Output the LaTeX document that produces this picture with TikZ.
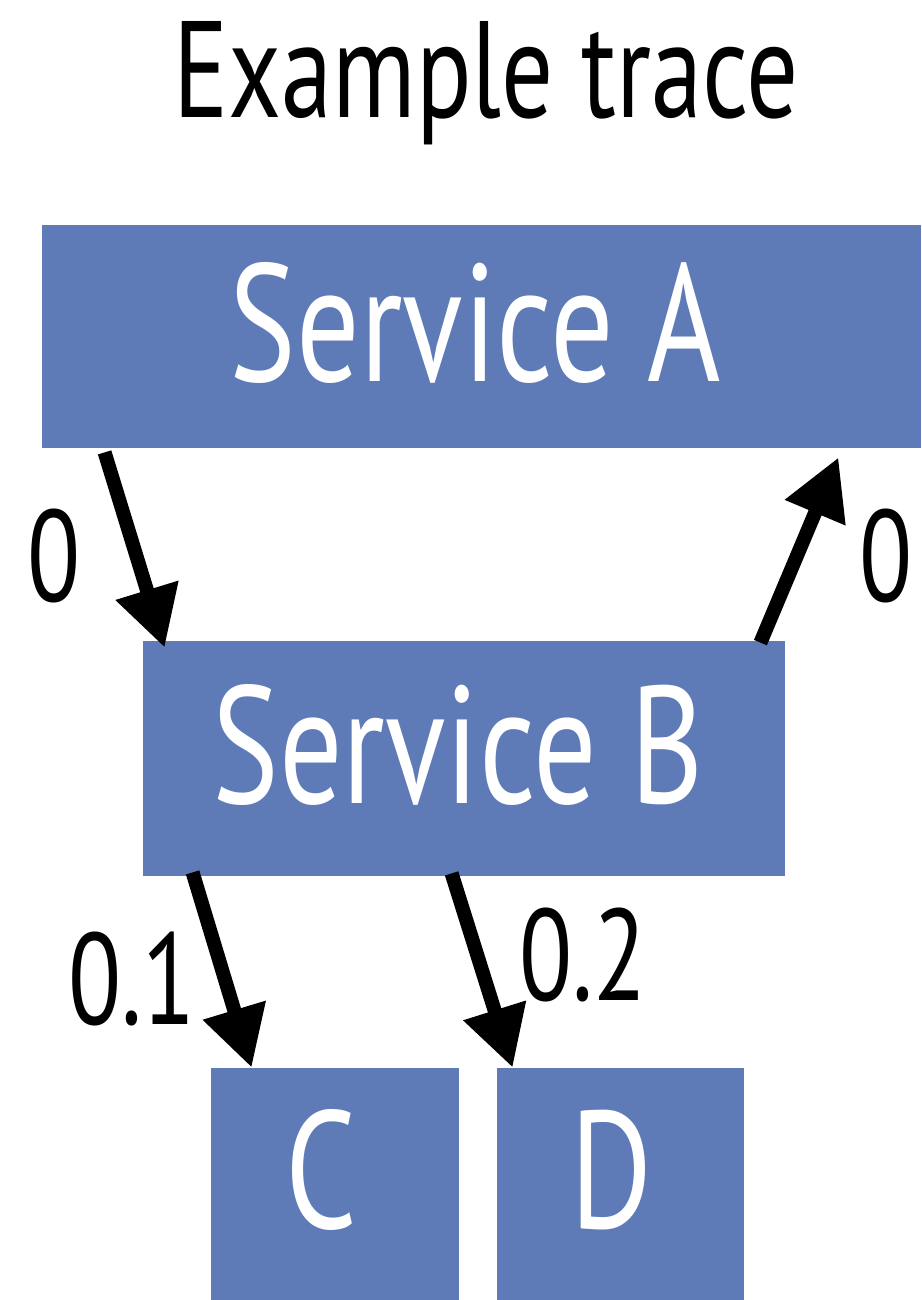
\documentclass[tikz,border=0pt]{standalone}
\usepackage{fontspec}
\setmainfont[FakeStretch=0.75]{PT Sans}
\usetikzlibrary{arrows.meta,calc}
\definecolor{boxblue}{HTML}{5E7BB8}
\begin{document}
\begin{tikzpicture}[x=0.5pt,y=-0.5pt,
  svcbox/.style={draw=none,fill=boxblue,text=white,inner sep=0pt,
    text height=60pt,text depth=15.5pt,font=\fontsize{83.6}{90}\selectfont},
  lbl/.style={anchor=base,inner sep=0pt,font=\fontsize{65}{70}\selectfont},
  conn/.style={line width=7pt,-{Triangle[length=30pt,width=31pt]}}]
\useasboundingbox (0,0) rectangle (921,1300);
\node[anchor=base,inner sep=0pt,font=\fontsize{68.6}{74}\selectfont] (title) at (486,118) {Example trace};
\node[svcbox,minimum width=439.5pt,minimum height=111.5pt] (A) at (481.5,336.5) {Service A\kern6pt};
\node[svcbox,minimum width=321pt,minimum height=117.5pt] (B) at (464,758.5) {Service B\kern6pt};
\node[svcbox,minimum width=124pt,minimum height=116pt] (C) at (335,1184) {C\kern14pt};
\node[svcbox,minimum width=123.5pt,minimum height=116pt] (D) at (620.5,1184) {D\kern9pt};
\draw[conn] ($(A.south west)+(63,4)$) -- ($(B.north west)+(22,7)$);
\draw[conn] ($(B.north east)+(-25,2)$) -- ($(A.south east)+(-83,9)$);
\draw[conn] ($(B.south west)+(50,-4)$) -- ($(C.north west)+(41,0)$);
\draw[conn] ($(B.south west)+(309,-3)$) -- ($(D.north west)+(16,0)$);
\node[lbl] (l1) at (54,601) {0};
\node[lbl] (l2) at (886,601) {0};
\node[lbl] (l3) at (132,1024) {0.1};
\node[lbl] (l4) at (583,1000) {0.2};
\end{tikzpicture}
\end{document}
